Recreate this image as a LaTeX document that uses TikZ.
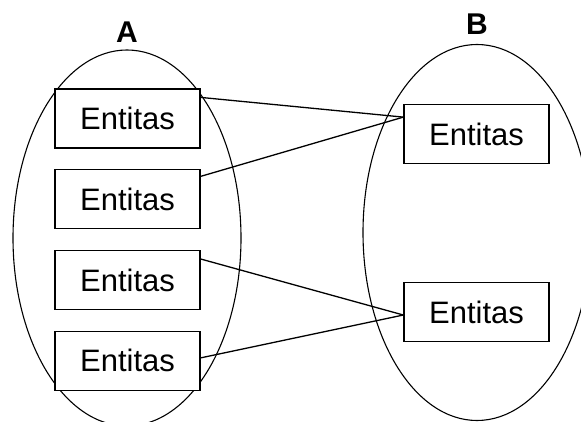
\documentclass[tikz,border=0pt]{standalone}
\usepackage{fontspec}
\setmainfont{Liberation Sans}
\usetikzlibrary{positioning, shapes.geometric, calc}

\begin{document}
\begin{tikzpicture}[
    x=1pt, y=-1pt,
    node distance=20.5pt,
    entity/.style={
        draw, fill=white, line width=1.3pt, minimum width=145pt, minimum height=59pt,
        inner sep=0pt, font=\fontsize{31}{31}\selectfont
    },
    set/.style={
        draw, ellipse, line width=1.1pt, inner sep=0pt,
        minimum width=228pt, minimum height=376pt
    },
    setlabel/.style={
        font=\fontsize{30}{30}\selectfont\bfseries, inner sep=0pt
    },
    link/.style={line width=1.3pt},
]
\useasboundingbox (0,0) rectangle (581,422);

% ── Sets ──
\node[set] (setA) at (127,238) {};
\node[set] (setB) at (477,232.5) {};
\node[setlabel, above=7pt of setA.north] (labA) {A};
\node[setlabel, above=9pt of setB.north] (labB) {B};

% ── Entities of A ──
\node[entity] (a1) at (127.5,118.5) {Entitas};
\node[entity, below=of a1] (a2) {Entitas};
\node[entity, below=of a2] (a3) {Entitas};
\node[entity, below=of a3] (a4) {Entitas};

% ── Entities of B ──
\node[entity] (b1) at (476.5,134) {Entitas};
\node[entity] (b2) at (476.5,312) {Entitas};

% ── Links ──
\coordinate (b1in) at ($(b1.north west)!0.22!(b1.south west)$);
\coordinate (b2in) at ($(b2.north west)!0.55!(b2.south west)$);
\draw[link] ($(a1.north east)!0.15!(a1.south east)$) -- (b1in);
\draw[link] ($(a2.north east)!0.12!(a2.south east)$) -- (b1in);
\draw[link] ($(a3.north east)!0.15!(a3.south east)$) -- (b2in);
\draw[link] ($(a4.north east)!0.45!(a4.south east)$) -- (b2in);

\end{tikzpicture}
\end{document}
